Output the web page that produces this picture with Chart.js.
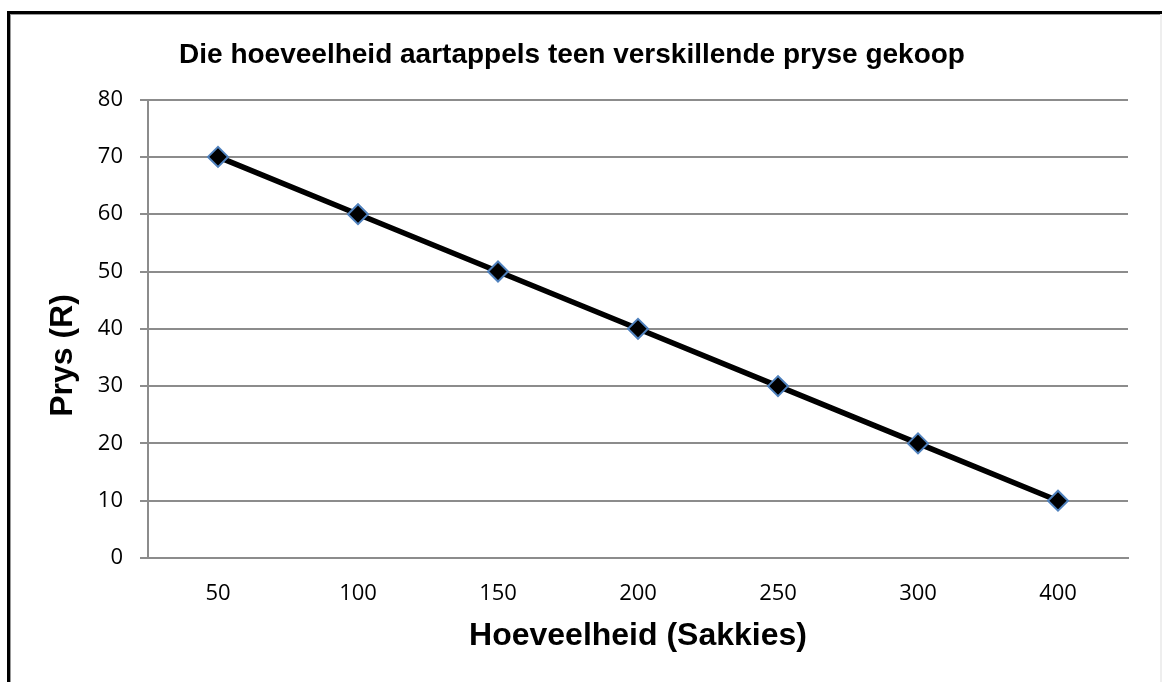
<!DOCTYPE html>
<html>
<head>
<meta charset="utf-8">
<script src="https://cdn.jsdelivr.net/npm/chart.js@4/dist/chart.umd.min.js"></script>
<style>
  html, body { margin: 0; padding: 0; background: #fff; }
  #wrap { position: relative; width: 1162px; height: 682px; overflow: hidden; }
  #c { position: absolute; left: 0; top: 0; }
  #frame { position: absolute; left: 7px; top: 11px; width: 1200px; height: 700px;
           border-left: 3px solid #000; border-top: 3px solid #000; box-shadow: inset 1px 1px 0 #999; pointer-events: none; }
  #edge { position: absolute; left: 1160px; top: 14px; width: 2px; height: 668px; background: #eeeeee; }
</style>
</head>
<body>
<div id="wrap">
  <canvas id="c" width="1162" height="682"></canvas>
  <div id="frame"></div>
  <div id="edge"></div>
</div>
<script>
const categories = ['50', '100', '150', '200', '250', '300', '400'];
const prices = [70, 60, 50, 40, 30, 20, 10];
const yTicks = [0, 10, 20, 30, 40, 50, 60, 70, 80];
const chartTitle = 'Die hoeveelheid aartappels teen verskillende pryse gekoop';
const xTitle = 'Hoeveelheid (Sakkies)';
const yTitle = 'Prys (R)';

const tickFont = { family: '"Open Sans", sans-serif', size: 22 };
const boldFont = { family: '"Liberation Sans", Arial, sans-serif', weight: 'bold' };

new Chart(document.getElementById('c'), {
  type: 'line',
  data: {
    labels: categories,
    datasets: [{
      data: prices,
      borderColor: '#000',
      borderWidth: 5.5,
      pointStyle: 'rectRot',
      pointRadius: 10,
      pointBackgroundColor: '#000',
      pointBorderColor: '#4F81BD',
      pointBorderWidth: 2,
      tension: 0,
      fill: false
    }]
  },
  options: {
    responsive: false,
    animation: false,
    devicePixelRatio: 1,
    layout: { padding: { left: 16, right: 34, top: 0, bottom: 0 } },
    plugins: {
      legend: { display: false },
      tooltip: { enabled: false },
      title: {
        display: true,
        text: chartTitle,
        color: '#000',
        font: Object.assign({}, boldFont, { size: 28 }),
        padding: { top: 38, bottom: 28 }
      }
    },
    scales: {
      x: {
        type: 'category',
        offset: true,
        grid: { display: false, drawTicks: false },
        border: { display: true, color: '#8c8c8c', width: 2 },
        ticks: { color: '#000', font: tickFont, padding: 23, maxRotation: 0 },
        title: {
          display: true, text: xTitle, color: '#000',
          font: Object.assign({}, boldFont, { size: 32 }),
          padding: { top: 27, bottom: 27 }
        },
        afterFit: s => { s.height = 124; }
      },
      y: {
        min: 0, max: 80,
        afterBuildTicks: s => { s.ticks = yTicks.map(v => ({ value: v })); },
        grid: { color: '#8c8c8c', lineWidth: 2, tickLength: 8, drawTicks: true },
        border: { display: true, color: '#8c8c8c', width: 2 },
        ticks: { color: '#000', font: tickFont, padding: 17 },
        title: {
          display: true, text: yTitle + '      ', color: '#000',
          font: Object.assign({}, boldFont, { size: 32 }),
          padding: { top: 28, bottom: 28 }
        },
        afterFit: s => { s.width = 132; }
      }
    }
  }
});
</script>
</body>
</html>
